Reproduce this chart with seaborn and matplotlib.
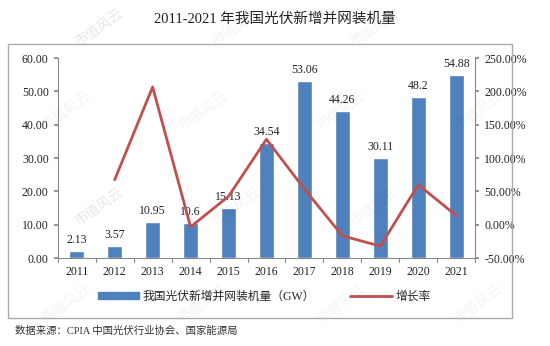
import matplotlib
matplotlib.use("Agg")
import matplotlib.pyplot as plt
import seaborn as sns
import pandas as pd
from matplotlib.patches import Rectangle
from matplotlib.lines import Line2D
from matplotlib.ticker import FuncFormatter, MultipleLocator

years = ["2011", "2012", "2013", "2014", "2015", "2016", "2017", "2018", "2019", "2020", "2021"]
capacity = [2.13, 3.57, 10.95, 10.6, 15.13, 34.54, 53.06, 44.26, 30.11, 48.2, 54.88]
rate_years = ["2012", "2013", "2014", "2015", "2016", "2017", "2018", "2019", "2020", "2021"]
growth = [67.6, 206.7, -3.2, 42.7, 128.3, 53.6, -16.6, -32.0, 60.1, 13.9]

title = "2011-2021 年我国光伏新增并网装机量"
bar_label = "我国光伏新增并网装机量（GW）"
line_label = "增长率"
source = "数据来源：CPIA 中国光伏行业协会、国家能源局"
watermark = "市值风云"

sns.set_theme(style="white")
FAM = ["Liberation Serif", "Noto Sans CJK SC", "DejaVu Sans"]
plt.rcParams["font.family"] = FAM

BLUE = "#4F81BD"
RED = "#C0504D"
TXT = "#222222"

fig = plt.figure(figsize=(5.5, 3.46), dpi=100)
ax = fig.add_axes([0.105, 0.254, 0.759, 0.578])

df_bar = pd.DataFrame({"year": years, "cap": capacity})
sns.barplot(data=df_bar, x="year", y="cap", color=BLUE, width=0.4, ax=ax,
            saturation=1, zorder=2)
for i, v in enumerate(capacity):
    ax.text(i, v + 1.5, f"{v:g}", ha="center", va="bottom", fontsize=8.5, color=TXT)

ax.set_ylim(0, 60)
ax.set_xlim(-0.5, len(years) - 0.5)
ax.yaxis.set_major_locator(MultipleLocator(10))
ax.yaxis.set_major_formatter(FuncFormatter(lambda v, p: f"{v:.2f}"))
ax.set_xlabel("")
ax.set_ylabel("")
ax.tick_params(axis="y", labelsize=8.5, colors=TXT, length=3, direction="out", left=True, color="#888888")
ax.tick_params(axis="x", labelsize=8.5, colors=TXT, length=0, pad=6)
for s in ["top", "right"]:
    ax.spines[s].set_visible(False)
for s in ["left", "bottom"]:
    ax.spines[s].set_color("#888888")
    ax.spines[s].set_linewidth(0.8)
for k in range(len(years) + 1):
    ax.plot([k - 0.5, k - 0.5], [0, -1.2], color="#888888", lw=0.8, clip_on=False)

ax2 = ax.twinx()
df_line = pd.DataFrame({"pos": [years.index(y) for y in rate_years], "g": growth})
sns.lineplot(data=df_line, x="pos", y="g", color=RED, lw=2, ax=ax2, zorder=3)
ax2.set_ylim(-50, 250)
ax2.yaxis.set_major_locator(MultipleLocator(50))
ax2.yaxis.set_major_formatter(FuncFormatter(lambda v, p: f"{v:.2f}%"))
ax2.set_ylabel("")
ax2.set_xlim(-0.5, len(years) - 0.5)
ax2.tick_params(axis="y", labelsize=8.5, colors=TXT, length=3, direction="out", right=True, color="#888888")
for s in ["top", "left", "bottom"]:
    ax2.spines[s].set_visible(False)
ax2.spines["right"].set_color("#888888")
ax2.spines["right"].set_linewidth(0.8)

fig.text(0.5, 0.945, title, ha="center", va="center", fontsize=10.5, color=TXT)

handles = [Rectangle((0, 0), 1, 1, color=BLUE), Line2D([0], [0], color=RED, lw=2)]
fig.legend(handles, [bar_label, line_label], loc="center", bbox_to_anchor=(0.48, 0.142),
           ncol=2, frameon=False, fontsize=8.5, handlelength=3.5, handleheight=0.5,
           columnspacing=3, handletextpad=0.3)

fig.text(0.027, 0.045, source, ha="left", va="center", fontsize=7.5, color="#333333")

frame = Rectangle((8 / 550, 1 - 318 / 346), (512 - 8) / 550, (318 - 44) / 346,
                  transform=fig.transFigure, fill=False, ec="#AAAAAA", lw=1)
fig.add_artist(frame)

# faint watermarks, kept inside the picture
for row, wy in enumerate([0.12, 0.40, 0.68, 0.92]):
    for wx in [0.12, 0.37, 0.62, 0.87]:
        x = wx + (0.06 if row % 2 else 0)
        if x > 0.9:
            x -= 0.75
        fig.text(x, wy, watermark, rotation=35, fontsize=10,
                 color="#000000", alpha=0.05, ha="center", va="center", zorder=0)

fig.savefig("out.png", dpi=100)
